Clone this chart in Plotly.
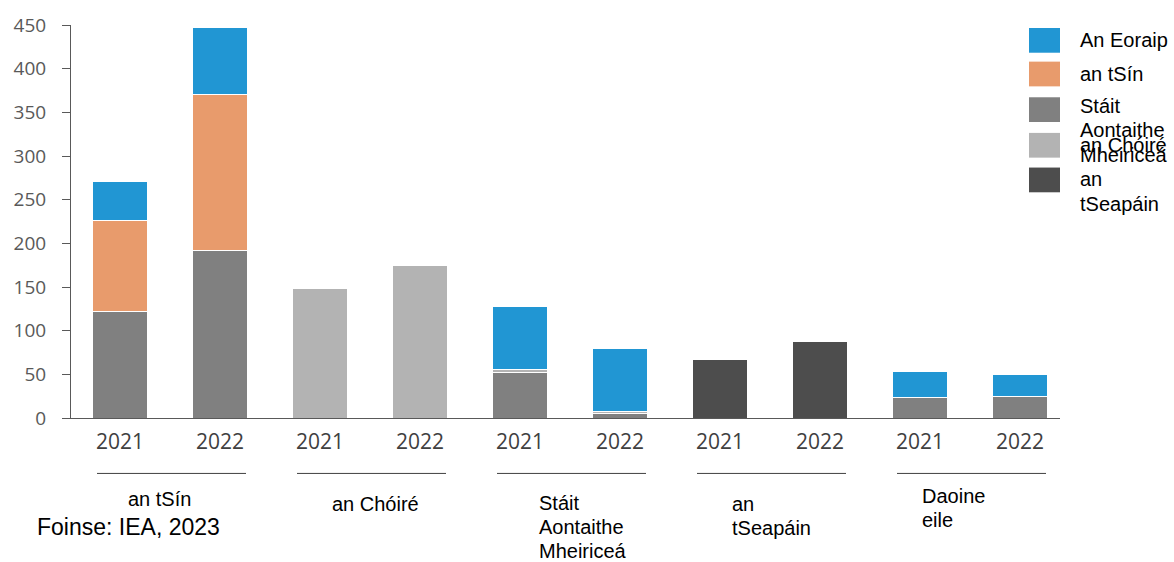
import plotly.graph_objects as go

groups = ["an tSín", "an Chóiré", "Stáit<br>Aontaithe<br>Mheiriceá", "an<br>tSeapáin", "Daoine<br>eile"]
years = ["2021", "2022"]

# stacked segment values per bar (10 bars: group x year)
usa = [122, 192, 0, 0, 52, 5, 0, 0, 23, 25]
korea = [0, 0, 148, 175, 3, 2, 0, 0, 0, 0]
japan = [0, 0, 0, 0, 0, 0, 67, 88, 0, 0]
china = [104, 178, 0, 0, 0, 0, 0, 0, 0, 0]
europe = [45, 77, 0, 0, 73, 73, 0, 0, 30, 25]

series = [
    ("Stáit Aontaithe Mheiriceá", usa, "#808080"),
    ("an Chóiré", korea, "#b3b3b3"),
    ("an tSeapáin", japan, "#4d4d4d"),
    ("an tSín", china, "#e89b6c"),
    ("An Eoraip", europe, "#2196d3"),
]

W, H = 1174, 562
L, R, T, B = 71, 114, 21, 144
PW, PH = W - L - R, H - T - B

def pxx(p):
    return (p - L) / PW

def pxy(p):
    return (H - B - p) / PH

xs = list(range(len(groups) * len(years)))
ticktext = [y for g in groups for y in years]

fig = go.Figure()
for name, vals, col in series:
    fig.add_trace(go.Bar(
        x=xs, y=vals, name=name, width=0.55,
        marker=dict(color=col, line=dict(color="white", width=1)),
        showlegend=False,
    ))

fig.update_layout(
    barmode="stack",
    width=W, height=H,
    margin=dict(l=L, r=R, t=T, b=B),
    plot_bgcolor="white", paper_bgcolor="white",
    xaxis=dict(
        range=[-0.49, 9.4], tickvals=xs, ticktext=ticktext,
        showline=True, linecolor="#595959", linewidth=1,
        ticks="", showgrid=False, zeroline=False,
        tickfont=dict(family="Open Sans, sans-serif", size=21, color="#404040"),
        ticklabelstandoff=5,
    ),
    yaxis=dict(
        range=[0, 450], tickvals=[0, 50, 100, 150, 200, 250, 300, 350, 400, 450],
        showline=True, linecolor="#595959", linewidth=1,
        ticks="outside", ticklen=8, tickcolor="#595959",
        showgrid=False, zeroline=False,
        tickfont=dict(family="Open Sans, sans-serif", size=19, color="#595959"),
        ticklabelstandoff=12,
    ),
    font=dict(family="Liberation Sans, Arial, sans-serif", color="black"),
)

TXT = dict(size=20, color="black", family="Liberation Sans, Arial, sans-serif")

def add_lines(text, x, y0, anchor, step=24.5):
    for k, line in enumerate(text.split("<br>")):
        fig.add_annotation(xref="paper", yref="paper", x=pxx(x), y=pxy(y0 + k * step),
                           text=line, showarrow=False, xanchor=anchor, yanchor="middle",
                           font=TXT)

# group separators and labels
label_pos = [(159, "center", 500), (375, "center", 505), (537, "left", 504),
             (730, "left", 505), (920, "left", 497)]
for i, g in enumerate(groups):
    fig.add_shape(type="line", xref="x", yref="paper", x0=2 * i - 0.23, x1=2 * i + 1.26,
                  y0=pxy(474), y1=pxy(474), line=dict(color="#404040", width=1))
    x, anchor, y = label_pos[i]
    add_lines(g, x, y, anchor, step=24)

fig.add_annotation(xref="paper", yref="paper", x=pxx(35), y=pxy(528),
                   text="Foinse: IEA, 2023", showarrow=False, xanchor="left", yanchor="middle",
                   font=dict(size=23, color="black", family="Liberation Sans, Arial, sans-serif"))

# legend (drawn manually to mimic the reference's overlapping entries)
leg = [
    ("An Eoraip", "#2196d3", 24, 36),
    ("an tSín", "#e89b6c", 58, 70),
    ("Stáit<br>Aontaithe<br>Mheiriceá", "#808080", 94, 103),
    ("an Chóiré", "#b3b3b3", 130, 142),
    ("an<br>tSeapáin", "#4d4d4d", 165, 177),
]
for text, col, top, yc in leg:
    fig.add_shape(type="rect", xref="paper", yref="paper",
                  x0=pxx(1029), x1=pxx(1060), y0=pxy(top), y1=pxy(top + 25),
                  fillcolor=col, line=dict(width=0))
    add_lines(text, 1078, yc, "left")

fig.write_html("out.html", config={"displayModeBar": False},
               post_script="document.body.style.margin='0';")
